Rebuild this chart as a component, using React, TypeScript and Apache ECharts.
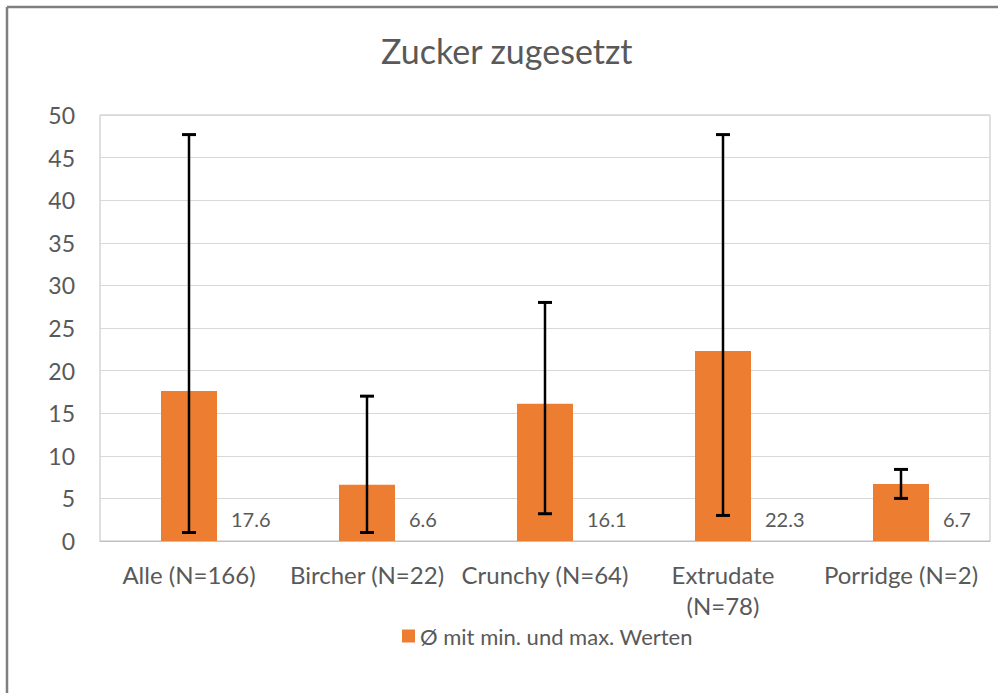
import React, { useEffect, useRef } from "react";
import * as echarts from "echarts";

const categories = ["Alle (N=166)", "Bircher (N=22)", "Crunchy (N=64)", "Extrudate\n(N=78)", "Porridge (N=2)"];
const meanValues = [17.6, 6.6, 16.1, 22.3, 6.7];
const minValues = [1.0, 1.0, 3.2, 3.0, 5.0];
const maxValues = [47.7, 17.0, 28.0, 47.7, 8.4];
const seriesName = "Ø mit min. und max. Werten";
const titleText = "Zucker zugesetzt";

const FONT = "Lato, 'Noto Sans', sans-serif";
const TEXT = "#595959";

export default function App() {
  const ref = useRef<HTMLDivElement>(null);
  useEffect(() => {
    if (!ref.current) return;
    const chart = echarts.init(ref.current, undefined, { renderer: "svg" });
    chart.setOption({
      animation: false,
      backgroundColor: "#ffffff",
      textStyle: { fontFamily: FONT },
      title: {
        text: titleText,
        left: 381,
        top: 33,
        padding: 0,
        textStyle: { fontFamily: FONT, fontSize: 34, fontWeight: "normal", color: TEXT },
      },
      legend: {
        data: [seriesName],
        bottom: 41,
        left: 397,
        itemWidth: 13,
        itemHeight: 13,
        icon: "rect",
        textStyle: { fontFamily: FONT, fontSize: 22, color: TEXT },
      },
      grid: {
        left: 100,
        right: 8,
        top: 115,
        bottom: 152,
        show: true,
        borderColor: "#c0c0c0",
        borderWidth: 1,
      },
      xAxis: {
        type: "category",
        data: categories,
        axisLine: { show: true, lineStyle: { color: "#bfbfbf" } },
        axisTick: { show: false },
        axisLabel: { fontFamily: FONT, fontSize: 24, color: TEXT, margin: 18, lineHeight: 31, interval: 0 },
      },
      yAxis: {
        type: "value",
        min: 0,
        max: 50,
        interval: 5,
        axisLine: { show: false },
        axisTick: { show: false },
        axisLabel: { fontFamily: FONT, fontSize: 23, color: TEXT, margin: 25 },
        splitLine: { lineStyle: { color: "#d9d9d9", width: 1 } },
      },
      series: [
        {
          name: seriesName,
          type: "bar",
          data: meanValues,
          barWidth: 56,
          itemStyle: { color: "#ED7D31" },
          label: {
            show: true,
            position: ["100%", "100%"],
            offset: [14, -22],
            align: "left",
            verticalAlign: "middle",
            fontFamily: FONT,
            fontSize: 20,
            color: TEXT,
            formatter: (p: any) => Number(p.value).toFixed(1),
          },
        },
        {
          name: "range",
          type: "custom",
          data: categories.map((_, i) => [i, minValues[i], maxValues[i]]),
          encode: { x: 0, y: [1, 2] },
          z: 5,
          renderItem: (params: any, api: any) => {
            const x = api.value(0);
            const lo = api.coord([x, api.value(1)]);
            const hi = api.coord([x, api.value(2)]);
            const w = 7;
            const st = { stroke: "#000000", lineWidth: 2.5 };
            return {
              type: "group",
              children: [
                { type: "line", shape: { x1: lo[0], y1: lo[1], x2: hi[0], y2: hi[1] }, style: st },
                { type: "line", shape: { x1: lo[0] - w, y1: lo[1], x2: lo[0] + w, y2: lo[1] }, style: { stroke: "#000000", lineWidth: 3 } },
                { type: "line", shape: { x1: hi[0] - w, y1: hi[1], x2: hi[0] + w, y2: hi[1] }, style: { stroke: "#000000", lineWidth: 3 } },
              ],
            };
          },
        },
      ],
      graphic: [
        { type: "line", shape: { x1: 7, y1: 7, x2: 998, y2: 7 }, style: { stroke: "#7f7f7f", lineWidth: 2.5 } },
        { type: "line", shape: { x1: 7, y1: 7, x2: 7, y2: 693 }, style: { stroke: "#7f7f7f", lineWidth: 2.5 } },
      ],
    });
    return () => chart.dispose();
  }, []);
  return (
    <div
      ref={ref}
      style={{ position: "fixed", left: 0, top: 0, width: 998, height: 693 }}
    />
  );
}
